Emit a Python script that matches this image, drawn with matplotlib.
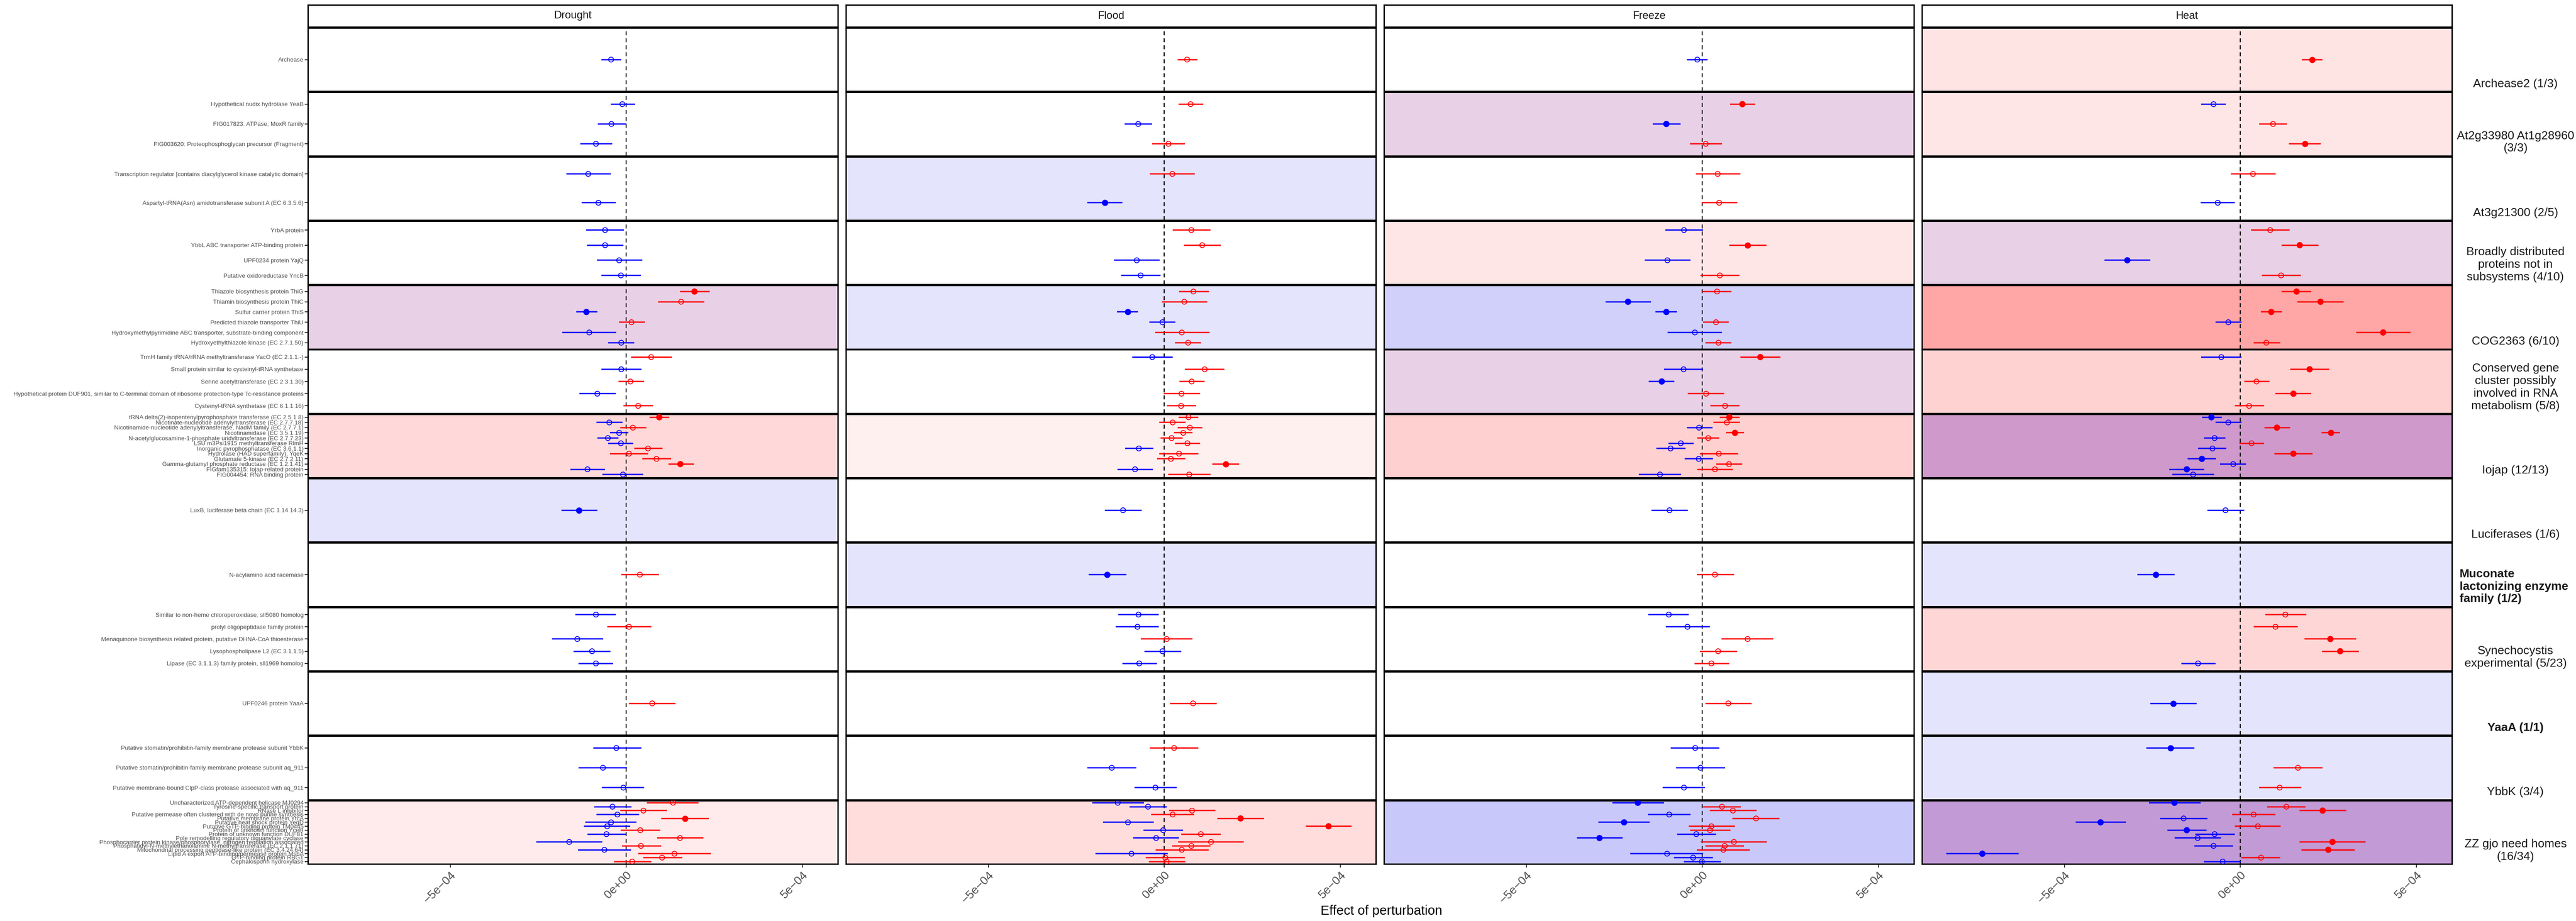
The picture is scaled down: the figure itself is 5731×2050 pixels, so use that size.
import numpy as np
import matplotlib.pyplot as plt

plt.rcParams['font.family'] = ['Liberation Sans', 'DejaVu Sans']

conditions = ['Drought', 'Flood', 'Freeze', 'Heat']

subsystems = ['Archease2 (1/3)',
              'At2g33980 At1g28960\n(3/3)',
              'At3g21300 (2/5)',
              'Broadly distributed\nproteins not in\nsubsystems (4/10)',
              'COG2363 (6/10)',
              'Conserved gene\ncluster possibly\ninvolved in RNA\nmetabolism (5/8)',
              'Iojap (12/13)',
              'Luciferases (1/6)',
              'Muconate\nlactonizing enzyme\nfamily (1/2)',
              'Synechocystis\nexperimental (5/23)',
              'YaaA (1/1)',
              'YbbK (3/4)',
              'ZZ gjo need homes\n(16/34)']
group_sizes = [1, 3, 2, 4, 6, 5, 12, 1, 1, 5, 1, 3, 16]

genes = ['Archease',
         'Hypothetical nudix hydrolase YeaB',
         'FIG017823: ATPase, MoxR family',
         'FIG003620: Proteophosphoglycan precursor (Fragment)',
         'Transcription regulator [contains diacylglycerol kinase catalytic domain]',
         'Aspartyl-tRNA(Asn) amidotransferase subunit A (EC 6.3.5.6)',
         'YrbA protein',
         'YbbL ABC transporter ATP-binding protein',
         'UPF0234 protein YajQ',
         'Putative oxidoreductase YncB',
         'Thiazole biosynthesis protein ThiG',
         'Thiamin biosynthesis protein ThiC',
         'Sulfur carrier protein ThiS',
         'Predicted thiazole transporter ThiU',
         'Hydroxymethylpyrimidine ABC transporter, substrate-binding component',
         'Hydroxyethylthiazole kinase (EC 2.7.1.50)',
         'TrmH family tRNA/rRNA methyltransferase YacO (EC 2.1.1.-)',
         'Small protein similar to cysteinyl-tRNA synthetase',
         'Serine acetyltransferase (EC 2.3.1.30)',
         'Hypothetical protein DUF901, similar to C-terminal domain of ribosome protection-type Tc-resistance proteins',
         'Cysteinyl-tRNA synthetase (EC 6.1.1.16)',
         'tRNA delta(2)-isopentenylpyrophosphate transferase (EC 2.5.1.8)',
         'Nicotinate-nucleotide adenylyltransferase (EC 2.7.7.18)',
         'Nicotinamide-nucleotide adenylyltransferase, NadM family (EC 2.7.7.1)',
         'Nicotinamidase (EC 3.5.1.19)',
         'N-acetylglucosamine-1-phosphate uridyltransferase (EC 2.7.7.23)',
         'LSU m3Psi1915 methyltransferase RlmH',
         'Inorganic pyrophosphatase (EC 3.6.1.1)',
         'Hydrolase (HAD superfamily), YqeK',
         'Glutamate 5-kinase (EC 2.7.2.11)',
         'Gamma-glutamyl phosphate reductase (EC 1.2.1.41)',
         'FIGfam135315: Iojap-related protein',
         'FIG004454: RNA binding protein',
         'LuxB, luciferase beta chain (EC 1.14.14.3)',
         'N-acylamino acid racemase',
         'Similar to non-heme chloroperoxidase, sll5080 homolog',
         'prolyl oligopeptidase family protein',
         'Menaquinone biosynthesis related protein, putative DHNA-CoA thioesterase',
         'Lysophospholipase L2 (EC 3.1.1.5)',
         'Lipase (EC 3.1.1.3) family protein, sll1969 homolog',
         'UPF0246 protein YaaA',
         'Putative stomatin/prohibitin-family membrane protease subunit YbbK',
         'Putative stomatin/prohibitin-family membrane protease subunit aq_911',
         'Putative membrane-bound ClpP-class protease associated with aq_911',
         'Uncharacterized ATP-dependent helicase MJ0294',
         'Tyrosine-specific transport protein',
         'RNase L inhibitor',
         'Putative permease often clustered with de novo purine synthesis',
         'Putative membrane protein YtcA',
         'Putative heat shock protein YegD',
         'Putative GTP-binding protein TM0445',
         'Protein of unknown function YceH',
         'Protein of unknown function DUF81',
         'Pole remodelling regulatory diguanylate cyclase',
         'Phosphocarrier protein kinase/phosphorylase, nitrogen regulation associated',
         'Phosphatidyl-N-methylethanolamine N-methyltransferase (EC 2.1.1.71)',
         'Mitochondrial processing peptidase-like protein (EC 3.4.24.64)',
         'Lipid A export ATP-binding/permease protein MsbA',
         'GTP-binding protein RBG1',
         'Cephalosporin hydroxylase']

# effect estimates and interval ends, in units of 1e-4
drought_est = [-0.43, -0.11, -0.42, -0.86, -1.08, -0.79, -0.60, -0.60, -0.20, -0.15,
               1.94, 1.56, -1.13, 0.15, -1.05, -0.14, 0.71, -0.14, 0.12, -0.82,
               0.34, 0.94, -0.48, 0.19, -0.20, -0.52, -0.15, 0.62, 0.08, 0.86,
               1.54, -1.10, -0.09, -1.34, 0.39, -0.86, 0.08, -1.39, -0.97, -0.86,
               0.74, -0.28, -0.66, -0.08, 1.33, -0.39, 0.49, -0.25, 1.67, -0.43,
               -0.54, 0.40, -0.56, 1.53, -1.62, 0.42, -0.62, 1.37, 1.02, 0.17]
drought_lo = [-0.71, -0.43, -0.80, -1.30, -1.70, -1.27, -1.14, -1.11, -0.83, -0.71,
              1.53, 0.91, -1.42, -0.20, -1.82, -0.51, 0.14, -0.71, -0.22, -1.33,
              -0.08, 0.66, -0.85, -0.17, -0.46, -0.82, -0.51, 0.23, -0.46, 0.46,
              1.20, -1.59, -0.68, -1.84, -0.14, -1.44, -0.54, -2.11, -1.50, -1.36,
              0.08, -0.94, -1.36, -0.69, 0.59, -0.91, -0.17, -0.85, 1.00, -1.16,
              -1.20, -0.15, -1.10, 0.88, -2.55, -0.12, -1.37, 0.34, 0.48, -0.35]
drought_hi = [-0.14, 0.25, 0.00, -0.40, -0.43, -0.29, -0.06, -0.08, 0.46, 0.42,
              2.38, 2.22, -0.82, 0.54, -0.28, 0.23, 1.30, 0.43, 0.51, -0.29,
              0.76, 1.22, -0.11, 0.57, 0.06, -0.22, 0.20, 1.03, 0.63, 1.27,
              1.93, -0.60, 0.49, -0.82, 0.93, -0.29, 0.71, -0.65, -0.45, -0.37,
              1.40, 0.43, 0.03, 0.51, 2.05, 0.15, 1.16, 0.37, 2.35, 0.29,
              0.11, 0.97, 0.00, 2.19, -0.68, 0.99, 0.14, 2.41, 1.59, 0.71]
drought_sig = [0, 0, 0, 0, 0, 0, 0, 0, 0, 0, 1, 0, 1, 0, 0, 0, 0, 0, 0, 0,
               0, 1, 0, 0, 0, 0, 0, 0, 0, 0, 1, 0, 0, 1, 0, 0, 0, 0, 0, 0,
               0, 0, 0, 0, 0, 0, 0, 0, 1, 0, 0, 0, 0, 0, 0, 0, 0, 0, 0, 0]

flood_est = [0.65, 0.75, -0.74, 0.12, 0.23, -1.69, 0.77, 1.08, -0.78, -0.67,
             0.83, 0.57, -1.03, -0.05, 0.50, 0.68, -0.34, 1.15, 0.78, 0.49,
             0.48, 0.69, 0.24, 0.73, 0.54, 0.21, 0.66, -0.72, 0.42, 0.19,
             1.75, -0.83, 0.71, -1.17, -1.62, -0.73, -0.76, 0.07, -0.05, -0.71,
             0.82, 0.28, -1.49, -0.25, -1.32, -0.46, 0.79, 0.24, 2.17, -1.03,
             4.67, -0.03, 1.04, -0.23, 1.33, 0.77, 0.50, -0.93, 0.03, 0.07]
flood_lo = [0.38, 0.41, -1.13, -0.34, -0.41, -2.19, 0.24, 0.56, -1.43, -1.23,
            0.42, -0.07, -1.34, -0.42, -0.26, 0.31, -0.91, 0.59, 0.43, -0.02,
            0.07, 0.41, -0.14, 0.38, 0.28, -0.10, 0.31, -1.11, -0.14, -0.21,
            1.37, -1.33, 0.11, -1.69, -2.15, -1.31, -1.38, -0.67, -0.56, -1.19,
            0.17, -0.41, -2.19, -0.85, -2.04, -0.99, 0.14, -0.37, 1.50, -1.74,
            4.02, -0.59, 0.49, -0.88, 0.40, 0.23, -0.25, -1.95, -0.53, -0.44]
flood_hi = [0.94, 1.11, -0.34, 0.58, 0.87, -1.19, 1.32, 1.61, -0.13, -0.11,
            1.27, 1.23, -0.74, 0.32, 1.29, 1.05, 0.24, 1.71, 1.15, 1.02,
            0.90, 0.97, 0.61, 1.09, 0.80, 0.52, 1.02, -0.31, 0.97, 0.60,
            2.13, -0.32, 1.31, -0.64, -1.08, -0.15, -0.15, 0.80, 0.48, -0.21,
            1.49, 0.97, -0.79, 0.36, -0.58, 0.08, 1.46, 0.85, 2.84, -0.30,
            5.33, 0.54, 1.61, 0.42, 2.26, 1.32, 1.26, 0.10, 0.58, 0.60]
flood_sig = [0, 0, 0, 0, 0, 1, 0, 0, 0, 0, 0, 0, 1, 0, 0, 0, 0, 0, 0, 0,
             0, 0, 0, 0, 0, 0, 0, 0, 0, 0, 1, 0, 0, 0, 1, 0, 0, 0, 0, 0,
             0, 0, 0, 0, 0, 0, 0, 0, 1, 0, 1, 0, 0, 0, 0, 0, 0, 0, 0, 0]

freeze_est = [-0.14, 1.14, -1.02, 0.10, 0.44, 0.48, -0.52, 1.29, -0.99, 0.50,
              0.42, -2.11, -1.02, 0.39, -0.21, 0.46, 1.65, -0.53, -1.15, 0.11,
              0.65, 0.77, 0.70, -0.09, 0.93, 0.17, -0.61, -0.90, 0.47, -0.10,
              0.76, 0.36, -1.20, -0.93, 0.36, -0.95, -0.42, 1.29, 0.45, 0.26,
              0.74, -0.20, -0.05, -0.52, -1.83, 0.56, 0.87, -0.94, 1.53, -2.22,
              0.26, 0.22, -0.17, -2.92, 0.90, 0.64, 0.60, -1.00, -0.26, -0.01]
freeze_lo = [-0.43, 0.79, -1.41, -0.35, -0.18, -0.01, -1.05, 0.77, -1.63, -0.05,
             0.00, -2.75, -1.33, 0.02, -0.98, 0.09, 1.08, -1.09, -1.52, -0.41,
             0.23, 0.50, 0.32, -0.44, 0.68, -0.14, -0.96, -1.30, -0.07, -0.50,
             0.40, -0.14, -1.80, -1.44, -0.16, -1.53, -1.03, 0.55, -0.06, -0.22,
             0.09, -0.89, -0.74, -1.13, -2.56, 0.03, 0.21, -1.55, 0.85, -2.95,
             -0.38, -0.34, -0.72, -3.57, -0.04, 0.09, -0.15, -2.04, -0.81, -0.53]
freeze_hi = [0.15, 1.50, -0.62, 0.56, 1.09, 0.99, 0.02, 1.82, -0.33, 1.06,
             0.83, -1.46, -0.72, 0.75, 0.56, 0.83, 2.22, 0.02, -0.79, 0.62,
             1.06, 1.06, 1.07, 0.29, 1.19, 0.49, -0.25, -0.48, 1.02, 0.31,
             1.13, 0.87, -0.60, -0.41, 0.90, -0.38, 0.21, 2.02, 0.99, 0.76,
             1.40, 0.48, 0.65, 0.08, -1.09, 1.10, 1.54, -0.33, 2.19, -1.50,
             0.93, 0.80, 0.39, -2.26, 1.84, 1.19, 1.35, 0.02, 0.30, 0.53]
freeze_sig = [0, 1, 1, 0, 0, 0, 0, 1, 0, 0, 0, 1, 1, 0, 0, 0, 1, 0, 1, 0,
              0, 1, 0, 0, 1, 0, 0, 0, 0, 0, 0, 0, 0, 0, 0, 0, 0, 0, 0, 0,
              0, 0, 0, 0, 1, 0, 0, 0, 0, 1, 0, 0, 0, 1, 0, 0, 0, 0, 0, 0]

heat_est = [2.04, -0.76, 0.93, 1.84, 0.36, -0.64, 0.85, 1.69, -3.21, 1.16,
            1.60, 2.28, 0.88, -0.34, 4.06, 0.74, -0.54, 1.97, 0.46, 1.51,
            0.25, -0.82, -0.34, 1.04, 2.58, -0.73, 0.32, -0.79, 1.51, -1.09,
            -0.20, -1.52, -1.34, -0.42, -2.40, 1.28, 1.00, 2.56, 2.84, -1.20,
            -1.90, -1.98, 1.64, 1.12, -1.87, 1.31, 2.34, 0.38, -1.61, -3.97,
            0.50, -1.52, -0.73, -1.21, 2.62, -0.76, 2.50, -7.33, 0.59, -0.50]
heat_lo = [1.75, -1.11, 0.53, 1.38, -0.27, -1.13, 0.31, 1.18, -3.86, 0.61,
           1.17, 1.62, 0.58, -0.71, 3.30, 0.38, -1.11, 1.41, 0.11, 1.00,
           -0.16, -1.09, -0.71, 0.69, 2.31, -1.03, -0.03, -1.20, 0.97, -1.50,
           -0.57, -2.02, -1.93, -0.93, -2.92, 0.71, 0.38, 1.83, 2.32, -1.68,
           -2.55, -2.67, 0.95, 0.53, -2.59, 0.77, 1.69, -0.23, -2.27, -4.68,
           -0.15, -2.07, -1.28, -1.86, 1.69, -1.31, 1.74, -8.36, 0.03, -1.03]
heat_hi = [2.33, -0.41, 1.33, 2.29, 1.01, -0.15, 1.40, 2.22, -2.55, 1.72,
           2.02, 2.94, 1.19, 0.04, 4.84, 1.13, 0.04, 2.53, 0.83, 2.02,
           0.67, -0.53, 0.04, 1.41, 2.84, -0.42, 0.68, -0.40, 2.06, -0.69,
           0.16, -1.02, -0.74, 0.11, -1.86, 1.87, 1.63, 3.30, 3.37, -0.71,
           -1.24, -1.30, 2.34, 1.73, -1.13, 1.85, 3.01, 0.99, -0.93, -3.24,
           1.15, -0.96, -0.16, -0.55, 3.56, -0.21, 3.25, -6.30, 1.14, 0.01]
heat_sig = [1, 0, 0, 1, 0, 0, 0, 1, 1, 0, 1, 1, 1, 0, 1, 0, 0, 1, 0, 1,
            0, 1, 0, 1, 1, 0, 0, 0, 1, 1, 0, 1, 0, 0, 1, 0, 0, 1, 1, 0,
            1, 1, 0, 0, 1, 0, 1, 0, 0, 1, 0, 1, 0, 0, 1, 0, 1, 1, 0, 0]

effects = {
    'Drought': (drought_est, drought_lo, drought_hi, drought_sig),
    'Flood': (flood_est, flood_lo, flood_hi, flood_sig),
    'Freeze': (freeze_est, freeze_lo, freeze_hi, freeze_sig),
    'Heat': (heat_est, heat_lo, heat_hi, heat_sig),
}
unit = 1e-4

# panel shading, one row per subsystem, columns follow conditions
W_ = 'white'
cell_fill = [
    [W_, W_, W_, '#FFE4E4'],
    [W_, W_, '#E8D0E6', '#FFE6E6'],
    [W_, '#E4E4FC', W_, W_],
    [W_, W_, '#FFE6E6', '#E8D0E6'],
    ['#E8D0E6', '#E4E4FC', '#D0D0FA', '#FFA6A6'],
    [W_, W_, '#E8D0E6', '#FFD2D2'],
    ['#FFD9D9', '#FFF0F0', '#FFD0D0', '#CF9ACB'],
    ['#E4E4FC', W_, W_, W_],
    [W_, '#E4E4FC', W_, '#E4E4FC'],
    [W_, W_, W_, '#FFD6D6'],
    [W_, W_, W_, '#E4E4FC'],
    [W_, W_, W_, '#E4E4FC'],
    ['#FFEBEB', '#FFDDDD', '#C8C8FA', '#C29AD6'],
]
bold_rows = [8, 10]

W, H = 5731, 2050
fig = plt.figure(figsize=(W / 100, H / 100), dpi=100)


def box(x0, y0, w, h):
    return [x0 / W, 1 - (y0 + h) / H, w / W, h / H]


col_left = [685, 1882, 3079, 4276]
col_w = 1179
row_top, row_pitch, row_h = 62, 143.3, 141.3
border = 2.2

lo_all = np.concatenate([effects[c][1] for c in conditions]) * unit
hi_all = np.concatenate([effects[c][2] for c in conditions]) * unit
span = hi_all.max() - lo_all.min()
xlim = (lo_all.min() - 0.05 * span, hi_all.max() + 0.05 * span)

starts = np.cumsum([0] + group_sizes[:-1])

for c, cond in enumerate(conditions):
    est, lo, hi, sig = [np.asarray(a, dtype=float) for a in effects[cond]]

    hax = fig.add_axes(box(col_left[c], 11, col_w, 49))
    hax.set_xticks([])
    hax.set_yticks([])
    for s in hax.spines.values():
        s.set_linewidth(border)
    hax.text(0.5, 0.5, cond, ha='center', va='center', fontsize=17,
             color='#1A1A1A', transform=hax.transAxes)

    for g, n in enumerate(group_sizes):
        ax = fig.add_axes(box(col_left[c], row_top + g * row_pitch, col_w, row_h))
        ax.set_facecolor(cell_fill[g][c])
        sl = slice(starts[g], starts[g] + n)
        y = n - np.arange(n)
        e, l, h, s = est[sl] * unit, lo[sl] * unit, hi[sl] * unit, sig[sl] > 0
        cols = np.where(e > 0, '#FF0000', '#0000FF')

        ax.axvline(0, color='black', ls=(0, (4, 3)), lw=1.6, zorder=1)
        ax.hlines(y, l, h, colors=cols, lw=3.0, alpha=0.3, zorder=2)
        ax.hlines(y, l, h, colors=cols, lw=1.7, zorder=3)
        ax.scatter(e[s], y[s], s=85, c=cols[s], edgecolors=cols[s],
                   linewidths=0.8, zorder=4)
        ax.scatter(e[~s], y[~s], s=62, facecolors='none', edgecolors=cols[~s],
                   linewidths=1.3, zorder=4)

        ax.set_xlim(xlim)
        ax.set_ylim(0.4, n + 0.6)
        for sp in ax.spines.values():
            sp.set_linewidth(border)

        ax.set_xticks([-5e-4, 0, 5e-4])
        if g == len(group_sizes) - 1:
            ax.set_xticklabels(['\u22125e\u221204', '0e+00', '5e\u221204'])
            ax.tick_params(axis='x', length=6, width=1.5, color='#333333',
                           labelsize=19, labelcolor='#4D4D4D', pad=3)
            plt.setp(ax.get_xticklabels(), rotation=45, ha='right',
                     rotation_mode='anchor')
        else:
            ax.tick_params(axis='x', length=0, labelbottom=False)

        ax.set_yticks(y)
        if c == 0:
            ax.set_yticklabels(genes[sl])
            ax.tick_params(axis='y', length=5, width=1.5, color='#333333',
                           labelsize=9.6, labelcolor='#4D4D4D', pad=2)
        else:
            ax.tick_params(axis='y', length=0, labelleft=False)

        if c == len(conditions) - 1:
            if g in bold_rows and '\n' in subsystems[g]:
                ax.text(1.014, 0.03, subsystems[g], transform=ax.transAxes,
                        ha='left', va='bottom', fontsize=19, fontweight='bold',
                        color='#1A1A1A')
            else:
                ax.text(1.12, 0.03, subsystems[g], transform=ax.transAxes,
                        ha='center', va='bottom', fontsize=19,
                        fontweight='bold' if g in bold_rows else 'normal',
                        color='#1A1A1A', multialignment='center')

fig.text(3073 / W, 1 - 2028 / H, 'Effect of perturbation', ha='center',
         va='center', fontsize=21, color='black')

fig.savefig('out.png', dpi=100)
